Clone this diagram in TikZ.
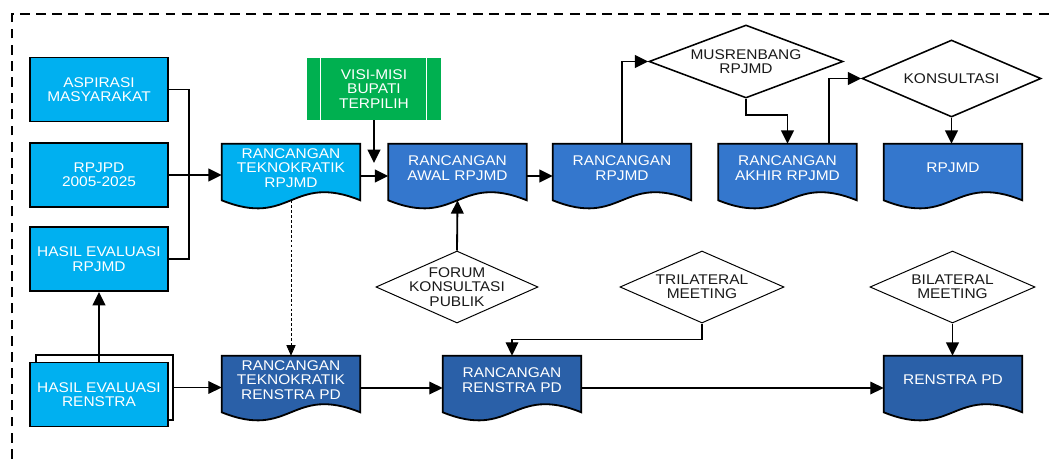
\documentclass[tikz,border=0pt]{standalone}
\usepackage{fontspec}
\setmainfont{Liberation Sans}[FakeStretch=1.1]
\usetikzlibrary{shapes.geometric,arrows.meta,calc,backgrounds}
\definecolor{skyblue}{RGB}{0,176,240}
\definecolor{leafgreen}{RGB}{0,176,80}
\definecolor{docblue}{RGB}{52,119,205}
\definecolor{navyblue}{RGB}{42,96,168}
\tikzset{
  txt/.style={font=\fontsize{10}{10.2}\selectfont,align=center,inner sep=0pt},
  srcbox/.style={txt,draw,line width=1.3pt,fill=skyblue,text=white,minimum width=3.45cm,minimum height=1.6cm},
  docbox/.style={txt,text=white,minimum width=3.45cm,minimum height=1.2cm},
  visibox/.style={txt,fill=leafgreen,text=white,minimum width=3.35cm,minimum height=1.55cm},
  dia/.style={diamond,draw,line width=1.1pt,inner sep=0pt},
  thindia/.style={dia,line width=0.7pt},
  every label/.append style={txt,text=black!90},
  conn/.style={line width=1.3pt,-{Triangle[length=9.5pt,width=9pt]}},
  thinconn/.style={conn,line width=0.9pt},
  link/.style={line width=1.3pt},
  dotconn/.style={line width=0.6pt,dash pattern=on 2pt off 1.5pt,-{Triangle[length=7.5pt,width=6.5pt]}},
  frame/.style={line width=1.4pt,dash pattern=on 7pt off 4.5pt}
}
\newcommand{\docshape}[2]{%
  \begin{pgfonlayer}{background}
    \draw[line width=1.3pt,fill=#2] (#1.north west) -- (#1.north east) -- ($(#1.south east)+(0,8)$)
      .. controls ($(#1.south)+(0,-20)$) and ($(#1.south)+(0,36)$) .. ($(#1.south west)+(0,8)$) -- cycle;
  \end{pgfonlayer}}
\begin{document}
\begin{tikzpicture}[x=0.025cm,y=-0.025cm]
  \useasboundingbox (0,0) rectangle (1054,460);
  \draw[frame] (12,475) -- (12,14) -- (1070,14);

  \node[srcbox] (aspirasi) at (99,89.5) {ASPIRASI\\MASYARAKAT};
  \node[srcbox] (rpjpd) at (99,175) {RPJPD\\2005-2025};
  \node[srcbox] (evalrpjmd) at (99,259) {HASIL EVALUASI\\RPJMD};
  \node[srcbox,fill=white,line width=1pt,minimum width=3.425cm,minimum height=1.625cm] (evalback) at (104.5,387.5) {};
  \node[srcbox] (evalrenstra) at (99,394.5) {HASIL EVALUASI\\RENSTRA};

  \node[visibox] (visi) at (374,89) {VISI-MISI\\BUPATI\\TERPILIH};
  \draw[white,line width=1pt] ([xshift=0.35cm]visi.north west) -- ([xshift=0.35cm]visi.south west);
  \draw[white,line width=1pt] ([xshift=-0.375cm]visi.north east) -- ([xshift=-0.375cm]visi.south east);
  \coordinate (visiend) at (374,163);

  \node[docbox] (tekrpjmd) at (291,168) {RANCANGAN\\TEKNOKRATIK\\RPJMD};
  \node[docbox] (awal) at (457.5,168) {RANCANGAN\\AWAL RPJMD};
  \node[docbox] (rancrpjmd) at (622,168) {RANCANGAN\\RPJMD};
  \node[docbox] (akhir) at (787.5,168) {RANCANGAN\\AKHIR RPJMD};
  \node[docbox] (rpjmd) at (953,168) {RPJMD};
  \node[docbox] (tekrenstra) at (291,380) {RANCANGAN\\TEKNOKRATIK\\RENSTRA PD};
  \node[docbox] (rancrenstra) at (512,380) {RANCANGAN\\RENSTRA PD};
  \node[docbox] (renstra) at (953,380) {RENSTRA PD};
  \docshape{tekrpjmd}{skyblue}
  \docshape{awal}{docblue}
  \docshape{rancrpjmd}{docblue}
  \docshape{akhir}{docblue}
  \docshape{rpjmd}{docblue}
  \docshape{tekrenstra}{navyblue}
  \docshape{rancrenstra}{navyblue}
  \docshape{renstra}{navyblue}

  \node[dia,minimum width=4.85cm,minimum height=1.825cm,label={center:{MUSRENBANG\\RPJMD}}] (musren) at (746,61.5) {};
  \node[dia,minimum width=4.475cm,minimum height=1.925cm,label={center:KONSULTASI}] (konsul) at (951.5,78.5) {};
  \node[thindia,minimum width=4.05cm,minimum height=1.8cm,label={center:{FORUM\\KONSULTASI\\PUBLIK}}] (forum) at (457,287) {};
  \node[thindia,minimum width=4.1cm,minimum height=1.8cm,label={center:{TRILATERAL\\MEETING}}] (trilat) at (702,287) {};
  \node[thindia,minimum width=4.125cm,minimum height=1.8cm,label={center:{BILATERAL\\MEETING}}] (bilat) at (952.5,287) {};

  \coordinate (brk) at (189,89.5);
  \draw[link] (aspirasi.east) -- (brk) |- (evalrpjmd.east);
  \draw[conn] (rpjpd.east) -- (rpjpd.east -| tekrpjmd.west);
  \draw[conn] (evalrenstra.north) -- (evalrenstra.north |- evalrpjmd.south);
  \draw[conn] (visi.south) -- (visiend);
  \draw[conn] ([yshift=-0.2cm]tekrpjmd.east) -- ([yshift=-0.2cm]awal.west);
  \draw[conn] ([yshift=-0.2cm]awal.east) -- ([yshift=-0.2cm]rancrpjmd.west);
  \draw[conn] (rancrpjmd.north) |- (musren.west);
  \draw[conn] (musren.south) -- ++(0,16) -| (akhir.north);
  \draw[conn] ($(akhir.north east)+(-28,0)$) |- (konsul.west);
  \draw[conn] (konsul.south) -- (konsul.south |- rpjmd.north);
  \draw[conn] (forum.north) -- ([yshift=-0.2cm]awal.south);
  \draw[dotconn] ([yshift=-0.2cm]tekrpjmd.south) -- (tekrenstra.north);
  \draw[thinconn] (evalback.east) -- (evalback.east -| tekrenstra.west);
  \draw[thinconn] ([yshift=-0.2cm]tekrenstra.east) -- ([yshift=-0.2cm]rancrenstra.west);
  \draw[thinconn] ([yshift=-0.2cm]rancrenstra.east) -- ([yshift=-0.2cm]renstra.west);
  \draw[thinconn] (trilat.south) -- ++(0,16) -| (rancrenstra.north);
  \draw[conn] (bilat.south) -- (bilat.south |- renstra.north);
\end{tikzpicture}
\end{document}
